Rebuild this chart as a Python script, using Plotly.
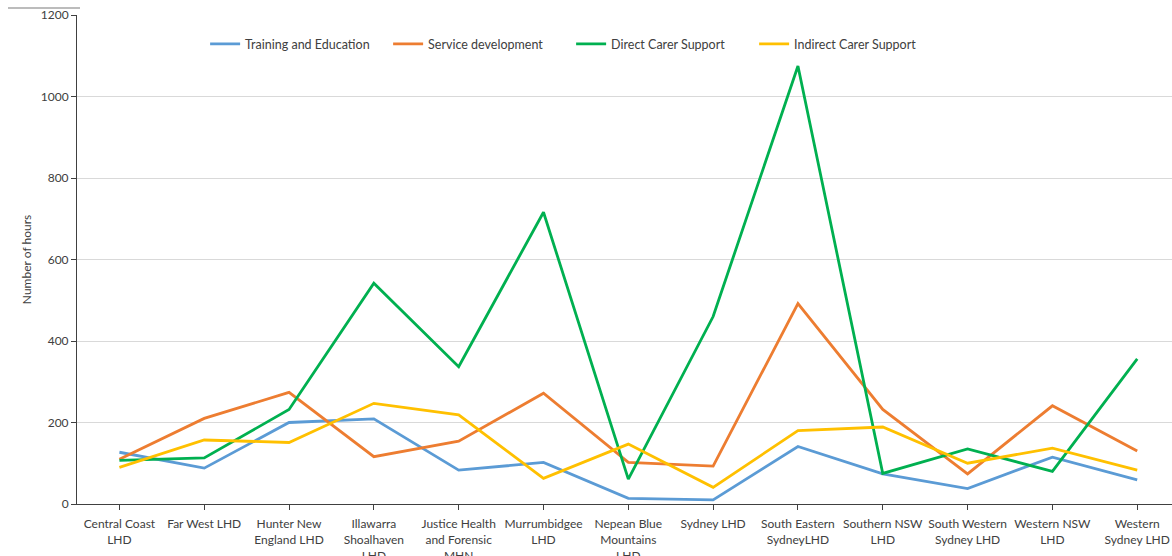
import plotly.graph_objects as go

categories = [
    "Central Coast<br>LHD", "Far West LHD", "Hunter New<br>England LHD",
    "Illawarra<br>Shoalhaven<br>LHD", "Justice Health<br>and Forensic<br>MHN",
    "Murrumbidgee<br>LHD", "Nepean Blue<br>Mountains<br>LHD", "Sydney LHD",
    "South Eastern<br>SydneyLHD", "Southern NSW<br>LHD", "South Western<br>Sydney LHD",
    "Western NSW<br>LHD", "Western<br>Sydney LHD",
]

training_education = [127, 88, 200, 209, 83, 102, 14, 10, 141, 74, 38, 115, 59]
service_development = [110, 210, 274, 116, 154, 272, 102, 93, 492, 232, 74, 241, 130]
direct_carer_support = [107, 113, 232, 542, 337, 716, 61, 460, 1075, 75, 135, 80, 356]
indirect_carer_support = [90, 157, 151, 247, 219, 63, 147, 41, 180, 189, 100, 137, 83]

series = [
    ("Training and Education", training_education, "#5B9BD5"),
    ("Service development", service_development, "#ED7D31"),
    ("Direct Carer Support", direct_carer_support, "#00B050"),
    ("Indirect Carer Support", indirect_carer_support, "#FFC000"),
]

FONT = "Lato, Open Sans, sans-serif"

fig = go.Figure()
for name, vals, color in series:
    fig.add_trace(go.Scatter(
        x=list(range(len(categories))), y=vals, name=name, mode="lines",
        line=dict(color=color, width=2.8),
    ))

fig.update_layout(
    width=1172, height=556,
    margin=dict(l=77, r=0, t=15, b=52, autoexpand=False),
    paper_bgcolor="white", plot_bgcolor="white",
    font=dict(family=FONT, size=12, color="#404040"),
    showlegend=True,
    legend=dict(
        orientation="h", x=0.117, y=0.94, xanchor="left", yanchor="middle",
        font=dict(family=FONT, size=12.5, color="#404040"),
        entrywidth=138, bgcolor="rgba(0,0,0,0)",
    ),
    xaxis=dict(
        tickmode="array", tickvals=list(range(len(categories))), ticktext=categories,
        range=[-0.5, 12.41], showgrid=False, zeroline=False,
        showline=True, linecolor="#404040", linewidth=1,
        ticks="outside", ticklen=5, tickcolor="#404040",
        ticklabelstandoff=4, automargin=False,
        tickfont=dict(family=FONT, size=12, color="#404040"),
    ),
    yaxis=dict(
        range=[0, 1200], dtick=200, showgrid=True, gridcolor="#D9D9D9", gridwidth=1,
        zeroline=False, showline=True, linecolor="#404040", linewidth=1,
        ticks="outside", ticklen=5, tickcolor="#404040", automargin=False,
        tickfont=dict(family=FONT, size=12, color="#404040"),
        title=dict(text="Number of hours", standoff=6,
                   font=dict(family=FONT, size=12, color="#404040")),
    ),
    shapes=[dict(type="line", xref="paper", yref="paper",
                 x0=(8 - 77) / 1095, x1=(80 - 77) / 1095,
                 y0=(504 - 8) / 489, y1=(504 - 8) / 489,
                 line=dict(color="#A6A6A6", width=1.5))],
)

fig.write_html("out.html")
